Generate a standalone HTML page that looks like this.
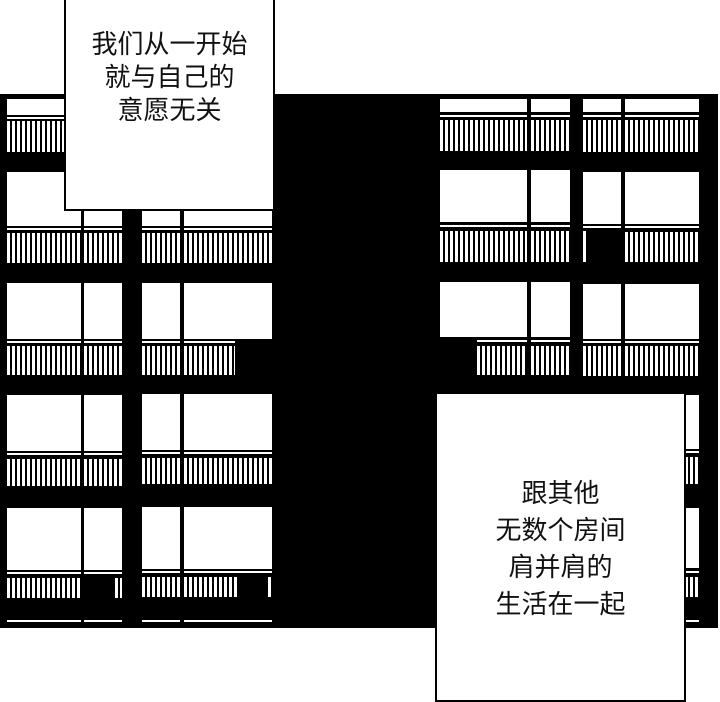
<!DOCTYPE html>
<html><head><meta charset="utf-8"><style>
body{margin:0;width:720px;height:700px;background:#fff;position:relative;overflow:hidden}
div{position:absolute}
.w{background:#fff}
.b{background:repeating-linear-gradient(90deg,#fff 0 3px,#000 3px 5px)}
.k{background:#000}
.bub{background:#fff;border:2px solid #000;box-sizing:border-box;font-family:"Liberation Sans","Noto Sans CJK SC",sans-serif;text-align:center;color:#111}
</style></head><body>
<div class="k" style="left:0;top:94px;width:718px;height:534px"></div>

<!-- left building -->
<!-- floor 0 -->
<div class="w" style="left:7px;top:99px;width:74px;height:16px"></div>
<div class="w" style="left:7px;top:117px;width:74px;height:2px"></div>
<div class="b" style="left:7px;top:121px;width:74px;height:31px"></div>
<!-- floors 1-4 generated manually -->
<div class="w" style="left:7px;top:172px;width:74px;height:54px"></div>
<div class="w" style="left:84px;top:172px;width:38px;height:54px"></div>
<div class="w" style="left:142px;top:172px;width:38px;height:54px"></div>
<div class="w" style="left:184px;top:172px;width:88px;height:54px"></div>
<div class="w" style="left:7px;top:228px;width:74px;height:2px"></div>
<div class="w" style="left:84px;top:228px;width:38px;height:2px"></div>
<div class="w" style="left:142px;top:228px;width:38px;height:2px"></div>
<div class="w" style="left:184px;top:228px;width:88px;height:2px"></div>
<div class="b" style="left:7px;top:233px;width:74px;height:30px"></div>
<div class="b" style="left:84px;top:233px;width:38px;height:30px"></div>
<div class="b" style="left:142px;top:233px;width:38px;height:30px"></div>
<div class="b" style="left:184px;top:233px;width:88px;height:30px"></div>

<div class="w" style="left:7px;top:283px;width:74px;height:56px"></div>
<div class="w" style="left:84px;top:283px;width:38px;height:56px"></div>
<div class="w" style="left:142px;top:283px;width:38px;height:56px"></div>
<div class="w" style="left:184px;top:283px;width:88px;height:56px"></div>
<div class="w" style="left:7px;top:341px;width:74px;height:2px"></div>
<div class="w" style="left:84px;top:341px;width:38px;height:2px"></div>
<div class="w" style="left:142px;top:341px;width:38px;height:2px"></div>
<div class="w" style="left:184px;top:341px;width:51px;height:2px"></div>
<div class="b" style="left:7px;top:346px;width:74px;height:29px"></div>
<div class="b" style="left:84px;top:346px;width:38px;height:29px"></div>
<div class="b" style="left:142px;top:346px;width:38px;height:29px"></div>
<div class="b" style="left:184px;top:346px;width:51px;height:29px"></div>

<div class="w" style="left:7px;top:395px;width:74px;height:56px"></div>
<div class="w" style="left:84px;top:395px;width:38px;height:56px"></div>
<div class="w" style="left:142px;top:394px;width:38px;height:56px"></div>
<div class="w" style="left:184px;top:394px;width:88px;height:56px"></div>
<div class="w" style="left:7px;top:453px;width:74px;height:2px"></div>
<div class="w" style="left:84px;top:453px;width:38px;height:2px"></div>
<div class="w" style="left:142px;top:452px;width:38px;height:2px"></div>
<div class="w" style="left:184px;top:452px;width:88px;height:2px"></div>
<div class="b" style="left:7px;top:459px;width:74px;height:27px"></div>
<div class="b" style="left:84px;top:459px;width:38px;height:27px"></div>
<div class="b" style="left:142px;top:458px;width:38px;height:26px"></div>
<div class="b" style="left:184px;top:458px;width:88px;height:26px"></div>

<div class="w" style="left:7px;top:508px;width:74px;height:62px"></div>
<div class="w" style="left:84px;top:508px;width:38px;height:62px"></div>
<div class="w" style="left:142px;top:507px;width:38px;height:62px"></div>
<div class="w" style="left:184px;top:507px;width:88px;height:62px"></div>
<div class="w" style="left:7px;top:572px;width:74px;height:2px"></div>
<div class="w" style="left:84px;top:572px;width:38px;height:2px"></div>
<div class="w" style="left:142px;top:571px;width:38px;height:2px"></div>
<div class="w" style="left:184px;top:571px;width:88px;height:2px"></div>
<div class="b" style="left:7px;top:578px;width:74px;height:20px"></div>
<div class="b" style="left:115px;top:578px;width:7px;height:20px"></div>
<div class="b" style="left:142px;top:577px;width:38px;height:20px"></div>
<div class="b" style="left:184px;top:577px;width:53px;height:20px"></div>
<div class="b" style="left:268px;top:577px;width:4px;height:20px"></div>
<div class="w" style="left:7px;top:620px;width:74px;height:2px"></div>
<div class="w" style="left:84px;top:620px;width:38px;height:2px"></div>
<div class="w" style="left:142px;top:620px;width:38px;height:2px"></div>
<div class="w" style="left:184px;top:620px;width:88px;height:2px"></div>

<!-- right building -->
<div class="w" style="left:440px;top:99px;width:87px;height:13px"></div>
<div class="w" style="left:531px;top:99px;width:39px;height:13px"></div>
<div class="w" style="left:583px;top:99px;width:38px;height:13px"></div>
<div class="w" style="left:625px;top:99px;width:74px;height:13px"></div>
<div class="w" style="left:440px;top:115px;width:87px;height:2px"></div>
<div class="w" style="left:531px;top:115px;width:39px;height:2px"></div>
<div class="w" style="left:583px;top:115px;width:38px;height:2px"></div>
<div class="w" style="left:625px;top:115px;width:74px;height:2px"></div>
<div class="b" style="left:440px;top:120px;width:87px;height:31px"></div>
<div class="b" style="left:531px;top:120px;width:39px;height:31px"></div>
<div class="b" style="left:583px;top:120px;width:38px;height:32px"></div>
<div class="b" style="left:625px;top:120px;width:74px;height:32px"></div>

<div class="w" style="left:440px;top:170px;width:87px;height:52px"></div>
<div class="w" style="left:531px;top:170px;width:39px;height:52px"></div>
<div class="w" style="left:583px;top:172px;width:38px;height:52px"></div>
<div class="w" style="left:625px;top:172px;width:74px;height:52px"></div>
<div class="w" style="left:440px;top:225px;width:87px;height:2px"></div>
<div class="w" style="left:531px;top:225px;width:39px;height:2px"></div>
<div class="w" style="left:583px;top:226px;width:38px;height:2px"></div>
<div class="w" style="left:625px;top:226px;width:74px;height:2px"></div>
<div class="b" style="left:440px;top:231px;width:87px;height:31px"></div>
<div class="b" style="left:531px;top:231px;width:39px;height:31px"></div>
<div class="b" style="left:583px;top:231px;width:3px;height:31px"></div>
<div class="b" style="left:625px;top:232px;width:74px;height:30px"></div>

<div class="w" style="left:440px;top:282px;width:87px;height:55px"></div>
<div class="w" style="left:531px;top:282px;width:39px;height:55px"></div>
<div class="w" style="left:583px;top:284px;width:38px;height:55px"></div>
<div class="w" style="left:625px;top:284px;width:74px;height:55px"></div>
<div class="w" style="left:477px;top:340px;width:50px;height:2px"></div>
<div class="w" style="left:531px;top:340px;width:39px;height:2px"></div>
<div class="w" style="left:583px;top:341px;width:38px;height:2px"></div>
<div class="w" style="left:625px;top:341px;width:74px;height:2px"></div>
<div class="b" style="left:477px;top:346px;width:50px;height:29px"></div>
<div class="b" style="left:531px;top:346px;width:39px;height:29px"></div>
<div class="b" style="left:583px;top:346px;width:38px;height:30px"></div>
<div class="b" style="left:625px;top:346px;width:74px;height:30px"></div>

<div class="w" style="left:685px;top:395px;width:14px;height:54px"></div>
<div class="w" style="left:685px;top:451px;width:14px;height:2px"></div>
<div class="b" style="left:685px;top:457px;width:14px;height:27px"></div>
<div class="w" style="left:685px;top:508px;width:14px;height:60px"></div>
<div class="w" style="left:685px;top:571px;width:14px;height:2px"></div>
<div class="b" style="left:685px;top:577px;width:14px;height:20px"></div>
<div class="w" style="left:685px;top:620px;width:14px;height:2px"></div>

<!-- bubbles -->
<div class="bub" style="left:64px;top:-2px;width:211px;height:213px;font-size:26px;line-height:33px;padding-top:28px">我们从一开始<br>就与自己的<br>意愿无关</div>
<div class="bub" style="left:435px;top:392px;width:251px;height:310px;font-size:26px;line-height:37px;padding-top:81px">跟其他<br>无数个房间<br>肩并肩的<br>生活在一起</div>
</body></html>
